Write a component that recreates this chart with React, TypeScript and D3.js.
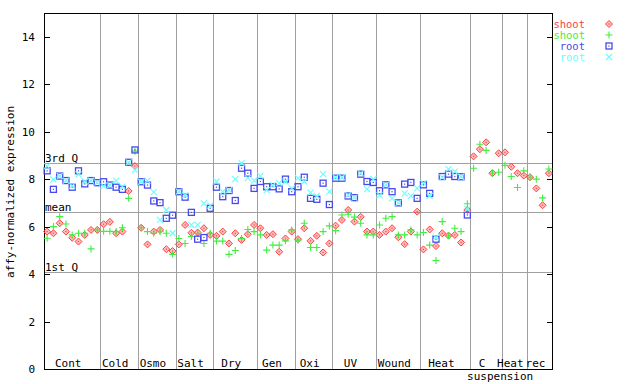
import React, { useRef, useEffect } from "react";
import { select, scaleLinear, range, sum } from "d3";

// conditions along the x axis and how many samples each one has
const groups = ["Cont", "Cold", "Osmo", "Salt", "Dry", "Gen", "Oxi", "UV", "Wound", "Heat", "C suspension", "Heat", "rec"];
const groupSizes = [9, 6, 6, 6, 7, 6, 6, 7, 7, 8, 5, 4, 4];

const shootA = [5.79, 5.72, 6.14, 5.79, 5.53, 5.37, 5.65, 5.86, 5.86,
  6.10, 6.20, 5.72, 5.79, 7.50, 8.55,
  5.95, 5.25, 5.79, 5.86, 5.05, 4.97,
  5.25, 6.07, 5.74, 5.75, 5.93, 5.65,
  5.61, 5.79, 5.29, 5.72, 5.44, 5.68, 6.07,
  5.93, 5.65, 5.68, 4.94, 5.50, 5.79,
  5.47, 5.93, 5.40, 5.61, 4.91, 5.29,
  6.04, 6.28, 6.70, 6.21, 6.41, 5.79, 5.79,
  5.65, 5.79, 5.93, 5.55, 5.26, 5.79, 6.63,
  5.04, 5.88, 5.18, 5.72, 5.62, 5.65, 5.33, 6.70,
  8.96, 9.26, 9.55, 8.25, 9.09,
  9.13, 8.52, 8.25, 8.15,
  8.08, 7.61, 6.90, 8.25];
const shootB = [5.51, 6.00, 6.42, 6.11, 5.65, 5.72, 5.72, 5.06, 5.86,
  5.80, 5.80, 5.79, 5.95, 7.19, 9.18,
  5.95, 5.79, 5.72, 5.79, 5.72, 4.83,
  5.50, 5.29, 5.58, 5.72, 5.29, 5.72,
  5.39, 5.39, 4.83, 4.99, 5.50, 5.88, 5.79,
  5.65, 5.01, 5.22, 5.22, 5.40, 5.86,
  5.43, 6.14, 5.12, 5.12, 5.79, 6.03,
  5.83, 6.49, 6.52, 6.40, 6.14, 5.65, 5.65,
  6.07, 6.35, 6.42, 5.65, 5.65, 5.86, 5.65,
  5.75, 5.22, 4.57, 6.21, 5.61, 5.93, 5.79, 6.96,
  8.46, 9.47, 9.21, 8.25, 8.29,
  8.58, 8.11, 7.65, 8.35,
  8.08, 8.00, 7.21, 8.43];
// no root samples after the first heat series
const rootA = [8.35, 7.57, 8.13, 7.94, 7.66, 8.35, 7.80, 7.94, 7.85,
  7.89, 7.75, 7.66, 7.57, 8.71, 9.23,
  7.89, 7.75, 7.08, 7.01, 6.35, 6.48,
  7.47, 7.24, 6.60, 5.47, 5.54, 6.77,
  7.66, 7.26, 7.52, 7.10, 8.46, 8.25, 7.61,
  7.90, 7.68, 7.68, 7.59, 8.00, 7.47,
  7.68, 8.08, 7.19, 7.15, 7.83, 6.93,
  8.04, 8.04, 7.29, 7.22, 8.21, 7.90, 7.86,
  7.51, 7.76, 7.47, 7.00, 7.79, 7.86, 7.19,
  7.76, 7.40, 5.47, 8.11, 8.21, 8.11, 8.10, 6.49];
const rootB = [8.55, 7.99, 8.13, 7.94, 7.72, 8.20, 7.90, 7.94, 7.85,
  7.72, 7.75, 7.94, 7.68, 8.71, 8.39,
  7.89, 7.94, 7.45, 6.28, 6.70, 5.72,
  7.47, 7.33, 6.07, 6.07, 6.98, 6.88,
  7.90, 7.47, 7.54, 8.00, 8.67, 8.04, 7.94,
  8.14, 7.54, 7.75, 7.83, 7.90, 7.61,
  8.04, 7.90, 7.43, 7.29, 8.21, 7.47,
  8.07, 8.07, 7.33, 7.22, 8.24, 7.58, 8.00,
  7.33, 7.76, 7.19, 7.00, 7.40, 7.29, 7.61,
  7.83, 7.30, 5.55, 8.07, 8.42, 8.32, 8.10, 6.74];

const refLines = ["3rd Q", "mean", "1st Q"];
const refValues = [8.68, 6.62, 4.08];
const yTicks = [0, 2, 4, 6, 8, 10, 12, 14];
const seriesNames = ["shoot", "shoot", "root", "root"];
const seriesColors = ["#ff4040", "#40ee40", "#4848ee", "#66ffff"];
const seriesShapes = ["diamond", "plus", "square", "cross"];

const font = "'DejaVu Sans Mono', monospace";

const drawMarker = (g, shape, cx, cy, color) => {
  if (shape === "diamond") {
    const r = 3.5
    g.append("path")
      .attr("d", `M${cx},${cy - r}L${cx + r},${cy}L${cx},${cy + r}L${cx - r},${cy}Z`)
      .attr("fill", color).attr("fill-opacity", 0.35)
      .attr("stroke", color).attr("stroke-width", 1)
    g.append("rect").attr("x", cx - 0.6).attr("y", cy - 0.6).attr("width", 1.2).attr("height", 1.2).attr("fill", color)
  } else if (shape === "plus") {
    g.append("path")
      .attr("d", `M${cx - 3.5},${cy}H${cx + 3.5}M${cx},${cy - 3.5}V${cy + 3.5}`)
      .attr("stroke", color).attr("stroke-width", 1.1)
  } else if (shape === "square") {
    g.append("rect").attr("x", cx - 3).attr("y", cy - 3).attr("width", 6).attr("height", 6)
      .attr("fill", "none").attr("stroke", color).attr("stroke-width", 1.3)
    g.append("rect").attr("x", cx - 0.6).attr("y", cy - 0.6).attr("width", 1.2).attr("height", 1.2).attr("fill", color)
  } else {
    g.append("path")
      .attr("d", `M${cx - 3},${cy - 3}L${cx + 3},${cy + 3}M${cx - 3},${cy + 3}L${cx + 3},${cy - 3}`)
      .attr("stroke", color).attr("stroke-width", 1.1)
  }
}

export default function App() {
  const svgRef = useRef(null);

  useEffect(() => {
    const svg = select(svgRef.current)
    svg.selectAll("*").remove()

    const left = 44, right = 552, top = 13, bottom = 369
    const n = sum(groupSizes)
    const x = scaleLinear().domain([0, n]).range([left, right])
    const y = scaleLinear().domain([0, 15]).range([bottom, top])
    const px = v => Math.round(v) + 0.5

    svg.append("rect").attr("width", 640).attr("height", 384).attr("fill", "white")

    // grey group separators
    let acc = 0
    const bounds = groupSizes.map(s => { const b = [acc, acc + s]; acc += s; return b })
    bounds.slice(0, -1).forEach(b => {
      svg.append("line")
        .attr("x1", px(x(b[1]))).attr("x2", px(x(b[1])))
        .attr("y1", top).attr("y2", bottom)
        .attr("stroke", "#a0a0a0").attr("stroke-width", 1)
    })

    // quartile / mean lines
    refValues.forEach((v, i) => {
      svg.append("line")
        .attr("x1", left).attr("x2", right)
        .attr("y1", px(y(v))).attr("y2", px(y(v)))
        .attr("stroke", "#a0a0a0").attr("stroke-width", 1)
      svg.append("text")
        .attr("x", left + 1).attr("y", Math.round(y(v)) - 1)
        .attr("font-family", font).attr("font-size", 11).attr("fill", "black")
        .text(refLines[i])
    })

    // group labels along the bottom
    groups.forEach((name, i) => {
      const c = (x(bounds[i][0]) + x(bounds[i][1])) / 2 - 4
      const parts = name.split(" ")
      svg.append("text")
        .attr("x", c).attr("y", 367)
        .attr("text-anchor", "middle")
        .attr("font-family", font).attr("font-size", 11)
        .text(parts[0])
      if (parts[1]) {
        svg.append("text")
          .attr("x", c + 18).attr("y", 380)
          .attr("text-anchor", "middle")
          .attr("font-family", font).attr("font-size", 11)
          .text(parts[1])
      }
    })

    // frame and ticks
    svg.append("rect")
      .attr("x", left + 0.5).attr("y", top + 0.5)
      .attr("width", right - left).attr("height", bottom - top)
      .attr("fill", "none").attr("stroke", "black").attr("stroke-width", 1)

    yTicks.forEach(t => {
      svg.append("line").attr("x1", left).attr("x2", left + 6)
        .attr("y1", px(y(t))).attr("y2", px(y(t))).attr("stroke", "black")
      svg.append("line").attr("x1", right - 5).attr("x2", right + 1)
        .attr("y1", px(y(t))).attr("y2", px(y(t))).attr("stroke", "black")
      svg.append("text")
        .attr("x", 35).attr("y", y(t) + 4)
        .attr("text-anchor", "end")
        .attr("font-family", font).attr("font-size", 11)
        .text(t)
    })

    svg.append("text")
      .attr("transform", "translate(14,192) rotate(-90)")
      .attr("text-anchor", "middle")
      .attr("font-family", font).attr("font-size", 11)
      .text("affy-normalized expression")

    // points
    const series = [shootA, shootB, rootA, rootB]
    const g = svg.append("g")
    series.forEach((vals, si) => {
      vals.forEach((v, i) => {
        drawMarker(g, seriesShapes[si], x(i + 0.5), y(v), seriesColors[si])
      })
    })

    // legend
    range(4).forEach(i => {
      const ly = 24 + i * 11
      svg.append("text")
        .attr("x", 585).attr("y", ly + 3.5)
        .attr("text-anchor", "end")
        .attr("font-family", font).attr("font-size", 10.5)
        .attr("fill", seriesColors[i])
        .text(seriesNames[i])
      drawMarker(svg, seriesShapes[i], 609, ly, seriesColors[i])
    })
  }, [])

  return (
    <svg ref={svgRef} width={640} height={384}
      style={{ position: "absolute", left: 0, top: 0 }}>
    </svg>
  )
}
